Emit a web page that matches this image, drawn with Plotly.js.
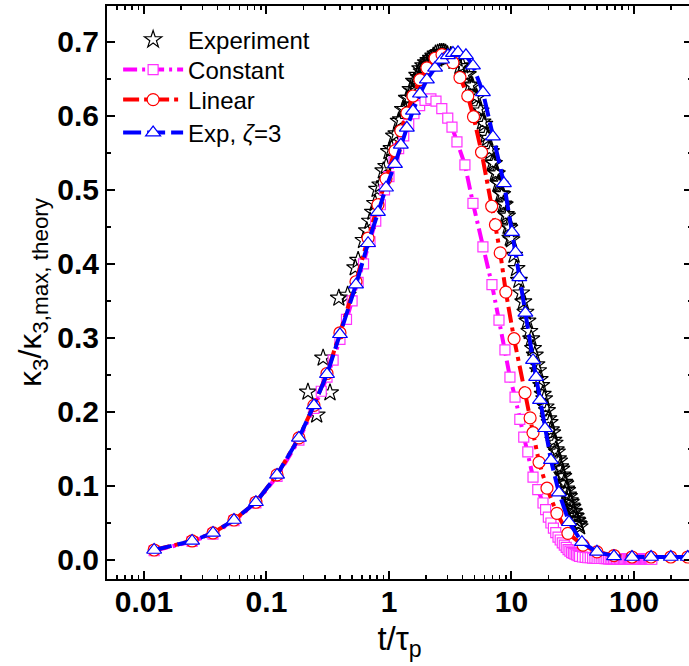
<!DOCTYPE html>
<html>
<head>
<meta charset="utf-8">
<script src="https://cdn.plot.ly/plotly-3.0.1.min.js"></script>
<style>
html,body{margin:0;padding:0;overflow:hidden;background:#fff;}
#chart{width:692px;height:666px;}
</style>
</head>
<body>
<div id="chart"></div>
<script>
// ---------- data ----------
var seriesNames = ["Experiment", "Constant", "Linear", "Exp, <i>ζ</i>=3"];

var expT = [0.218,0.257,0.29,0.33,0.39,0.46,0.53,0.56,0.62,0.66,0.70,0.74,0.77,
  0.80,0.85,0.90,0.95,1.00,1.05,1.10,1.15,1.20,1.25,1.30,1.35,1.40,1.45,1.50,1.55,1.60,1.65,1.70,1.75,1.80,1.85,1.90,1.95,
  2.00,2.05,2.10,2.15,2.20,2.25,2.30,2.35,2.40,2.45,2.50,2.55,2.60,2.65,2.70,2.75,2.80,2.85,2.90,2.95,3.00,
  3.2,3.4,3.6,3.8,4.0,4.2,4.4,4.6,4.8,5.0,5.2,5.4,5.6,5.8,6.0,6.2,6.4,6.6,6.8,7.0,7.2,7.4,7.6,7.8,8.0,8.2,8.4,8.6,8.8,9.0,9.2,9.4,9.6,9.8,10.0,
  10.5,11.0,11.5,12.0,12.5,13.0,13.5,14.0,14.5,15.0,15.5,16.0,16.5,17.0,17.5,18.0,18.5,19.0,19.5,20.0,20.5,21.0,21.5,22.0,22.5,23.0,23.5,24.0,24.5,25.0,
  25.5,26.0,26.5,27.0,27.5,28.0,28.5,29.0,29.5,30.0,30.5,31.0,31.5,32.0,32.5,33.0,33.5,34.0,34.5,35.0,35.5,36.0];
var expY = [0.227,0.196,0.273,0.226,0.354,0.358,0.395,0.405,0.432,0.445,0.458,0.470,0.482,
  0.501,0.507,0.526,0.532,0.552,0.556,0.573,0.576,0.593,0.595,0.609,0.609,0.624,0.624,0.636,0.634,0.647,0.645,0.655,0.652,0.664,0.660,0.668,0.664,
  0.672,0.667,0.675,0.670,0.678,0.673,0.681,0.676,0.684,0.677,0.685,0.679,0.686,0.680,0.686,0.680,0.686,0.679,0.685,0.678,0.683,
  0.682,0.674,0.677,0.667,0.668,0.656,0.656,0.642,0.641,0.627,0.625,0.610,0.607,0.592,0.589,0.574,0.570,0.555,0.552,0.537,0.536,0.523,0.522,0.509,0.508,0.495,0.494,0.481,0.480,0.467,0.465,0.451,0.449,0.435,0.433,
  0.412,0.394,0.378,0.361,0.349,0.335,0.323,0.309,0.299,0.286,0.277,0.264,0.256,0.244,0.236,0.224,0.218,0.207,0.202,0.191,0.186,0.176,0.172,0.162,0.158,0.149,0.146,0.137,0.134,0.126,
  0.123,0.115,0.113,0.105,0.103,0.096,0.094,0.088,0.086,0.080,0.078,0.073,0.071,0.066,0.065,0.060,0.059,0.054,0.053,0.049,0.048,0.045];

var constT = [0.0121,0.0247,0.0366,0.0543,0.082,0.122,0.184,0.244,0.28,0.312,0.35,0.398,0.45,0.50,0.56,0.62,0.70,0.78,0.85,0.92,
  1.0,1.1,1.2,1.32,1.45,1.6,1.78,1.97,2.2,2.42,2.7,3.02,3.27,3.59,4.17,4.85,5.85,6.93,7.91,8.85,9.72,10.7,11.7,12.6,13.6,15.0,16.4,18.1,
  19,20,21,22,23,24,25,26,27,28,29,30,31,32,33,34,35,36,38,40,42,44,46,48,50,52,54,56,58,60,62,64,66,68,70,72,74,76,78,80,
  82,84,86,88,90,92,94,96,98,100,102,104,106,108,110,112,114,116,118,120,122,124,126,128,130,132,134,136,138,140];
var constY = [0.0125,0.025,0.035,0.053,0.077,0.113,0.162,0.205,0.228,0.247,0.27,0.298,0.325,0.35,0.375,0.40,0.43,0.458,0.48,0.50,
  0.518,0.538,0.556,0.573,0.589,0.603,0.614,0.621,0.623,0.620,0.610,0.597,0.585,0.565,0.534,0.482,0.423,0.372,0.324,0.284,0.247,0.220,0.190,0.166,0.146,0.112,0.095,0.077,
  0.068,0.058,0.050,0.043,0.037,0.031,0.027,0.023,0.020,0.017,0.014,0.012,0.010,0.009,0.008,0.007,0.006,0.005,0.004,0.0035,0.003,0.003,0.0025,0.0025,0.002,0.002,0.002,0.002,0.0018,0.0018,0.0016,0.0016,0.0015,0.0015,0.0014,0.0014,0.0013,0.0013,0.0012,0.0012,
  0.0012,0.0011,0.0011,0.0011,0.001,0.001,0.001,0.001,0.001,0.001,0.001,0.001,0.001,0.001,0.001,0.001,0.001,0.001,0.001,0.001,0.001,0.001,0.001,0.001,0.001,0.001,0.001,0.001,0.001,0.001];

var linT = [0.0121,0.0247,0.0366,0.0543,0.082,0.122,0.184,0.244,0.312,0.398,0.538,0.675,0.813,0.946,1.12,1.25,1.40,1.57,1.79,2.04,2.38,2.71,3.03,3.33,
  3.80,4.40,4.90,5.70,6.90,7.40,8.10,9.00,10.5,12.9,14.2,15.0,16.8,19.5,23.5,28.9,38.4,49.9,68.7,96.4,138,200,275];
var linY = [0.0135,0.0257,0.0365,0.054,0.078,0.115,0.165,0.209,0.252,0.307,0.376,0.435,0.480,0.515,0.553,0.580,0.604,0.627,0.649,0.665,0.678,0.683,0.680,0.672,
  0.652,0.627,0.599,0.551,0.478,0.453,0.415,0.362,0.299,0.226,0.192,0.172,0.132,0.097,0.063,0.036,0.020,0.011,0.006,0.004,0.004,0.004,0.004];

var expoT = [0.0121,0.0247,0.0366,0.0543,0.082,0.122,0.184,0.244,0.312,0.398,0.538,0.675,0.813,0.946,1.12,1.25,1.40,1.57,1.79,2.04,2.38,2.71,3.03,3.33,3.66,
  4.25,4.85,5.85,7.06,8.68,10.1,10.8,11.6,13.0,15.0,15.9,17.1,18.8,21.0,24.4,29.5,37.6,49.9,68.7,96.4,138,200,275];
var expoY = [0.0135,0.0257,0.0365,0.054,0.078,0.115,0.165,0.209,0.251,0.305,0.372,0.428,0.470,0.503,0.535,0.561,0.584,0.607,0.630,0.649,0.665,0.676,0.682,0.685,0.686,
  0.682,0.668,0.632,0.572,0.509,0.443,0.416,0.382,0.334,0.270,0.247,0.216,0.178,0.135,0.091,0.051,0.024,0.011,0.005,0.004,0.004,0.004,0.004];

var xTickVals = [0.01, 0.1, 1, 10, 100];
var xTickText = ["0.01", "0.1", "1", "10", "100"];
var xMinorVals = [0.006,0.007,0.008,0.009, 0.02,0.03,0.04,0.05,0.06,0.07,0.08,0.09,
  0.2,0.3,0.4,0.5,0.6,0.7,0.8,0.9, 2,3,4,5,6,7,8,9, 20,30,40,50,60,70,80,90, 200];
var yTickVals = [0.0, 0.1, 0.2, 0.3, 0.4, 0.5, 0.6, 0.7];
var yTickText = ["0.0", "0.1", "0.2", "0.3", "0.4", "0.5", "0.6", "0.7"];

// ---------- traces ----------
var FONT = "Liberation Sans, Arial, sans-serif";
var traces = [
  {x: expT, y: expY, name: seriesNames[0], mode: "markers", type: "scatter", legend: "legend",
   marker: {symbol: "star-open", size: 13, color: "#000", line: {width: 1.2, color: "#000"}}},
  {x: constT, y: constY, name: seriesNames[1], mode: "lines+markers", type: "scatter", legend: "legend2",
   line: {color: "#ff00ff", width: 4, dash: "14px,5px,3px,5px"},
   marker: {symbol: "square", size: 10, color: "#fff", line: {width: 1.2, color: "#ff33ff"}}},
  {x: linT, y: linY, name: seriesNames[2], mode: "lines+markers", type: "scatter", legend: "legend3",
   line: {color: "#ff0000", width: 4, dash: "16px,5px,4px,5px"},
   marker: {symbol: "circle", size: 12, color: "#fff", line: {width: 1.2, color: "#ff0000"}}},
  {x: expoT, y: expoY, name: seriesNames[3], mode: "lines+markers", type: "scatter", legend: "legend4",
   line: {color: "#0000ff", width: 4, dash: "18px,6px"},
   marker: {symbol: "triangle-up", size: 13, color: "#fff", line: {width: 1.2, color: "#0000ff"}}}
];

function legendAt(yc) {
  return {x: 0.019, y: yc, xanchor: "left", yanchor: "middle", bgcolor: "rgba(0,0,0,0)",
          itemwidth: 60, font: {size: 24, family: FONT, color: "#000"}};
}

var layout = {
  width: 692, height: 666,
  margin: {l: 107, r: 0, t: 6, b: 87},
  paper_bgcolor: "#fff", plot_bgcolor: "#fff",
  font: {family: FONT, color: "#000"},
  showlegend: true,
  legend: legendAt(0.9407),
  legend2: legendAt(0.8883),
  legend3: legendAt(0.8360),
  legend4: legendAt(0.7784),
  xaxis: {
    type: "log", range: [-2.302, 2.474],
    tickvals: xTickVals, ticktext: xTickText,
    ticks: "inside", ticklen: 8, tickwidth: 2, tickcolor: "#000",
    minor: {tickvals: xMinorVals, ticks: "inside", ticklen: 4, tickwidth: 1.5, tickcolor: "#000", showgrid: false},
    showline: true, linecolor: "#000", linewidth: 2, mirror: "ticks",
    showgrid: false, zeroline: false, ticklabelstandoff: -5,
    tickfont: {size: 30, family: FONT, weight: "bold", color: "#000"},
    title: {text: "t/τ<sub>p</sub>", font: {size: 33, family: FONT, color: "#000"}, standoff: 10}
  },
  yaxis: {
    range: [-0.0257, 0.7486],
    tickvals: yTickVals, ticktext: yTickText,
    ticks: "inside", ticklen: 8, tickwidth: 2, tickcolor: "#000",
    minor: {ticks: "inside", ticklen: 4, tickwidth: 1.5, tickcolor: "#000", dtick: 0.05, showgrid: false},
    showline: true, linecolor: "#000", linewidth: 2, mirror: "ticks",
    showgrid: false, zeroline: false,
    tickfont: {size: 30, family: FONT, weight: "bold", color: "#000"},
    title: {text: "κ<sub>3</sub>/κ<sub>3,max, theory</sub>",
            font: {size: 32, family: FONT, color: "#000"}, standoff: 6}
  }
};

Plotly.newPlot("chart", traces, layout, {displayModeBar: false, staticPlot: true});
</script>
</body>
</html>
